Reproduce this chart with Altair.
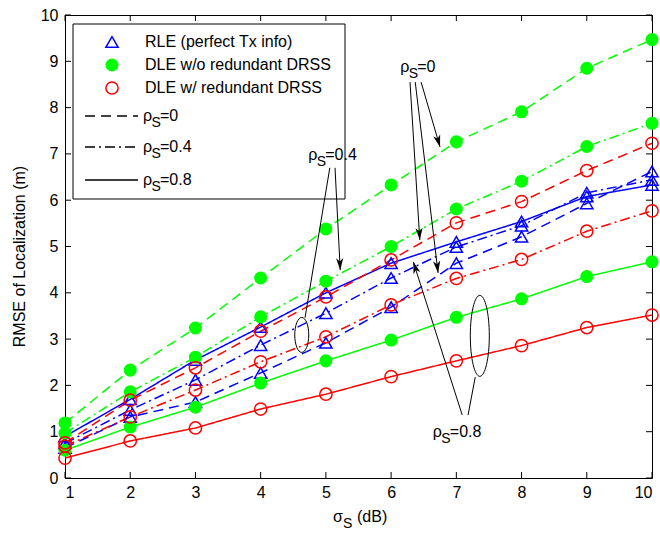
import math
import altair as alt
import pandas as pd

# ---------------- data ----------------
sigma = [1, 2, 3, 4, 5, 6, 7, 8, 9, 10]
rle_rho0 = [0.65, 1.32, 1.64, 2.27, 2.92, 3.69, 4.64, 5.21, 5.93, 6.62]
rle_rho04 = [0.75, 1.47, 2.12, 2.87, 3.56, 4.32, 4.99, 5.45, 6.16, 6.44]
rle_rho08 = [0.90, 1.70, 2.55, 3.26, 4.00, 4.64, 5.10, 5.54, 6.08, 6.33]
dle_wo_rho0 = [1.19, 2.33, 3.24, 4.32, 5.38, 6.33, 7.26, 7.91, 8.85, 9.47]
dle_wo_rho04 = [0.97, 1.86, 2.61, 3.48, 4.25, 5.00, 5.81, 6.41, 7.16, 7.66]
dle_wo_rho08 = [0.60, 1.10, 1.53, 2.05, 2.53, 2.98, 3.47, 3.87, 4.35, 4.67]
dle_w_rho0 = [0.76, 1.68, 2.38, 3.17, 3.91, 4.71, 5.51, 5.97, 6.64, 7.23]
dle_w_rho04 = [0.69, 1.32, 1.90, 2.51, 3.05, 3.74, 4.31, 4.72, 5.33, 5.77]
dle_w_rho08 = [0.43, 0.80, 1.08, 1.49, 1.81, 2.19, 2.53, 2.86, 3.25, 3.52]

methods = ["RLE (perfect Tx info)", "DLE w/o redundant DRSS", "DLE w/ redundant DRSS"]
rhos = ["0", "0.4", "0.8"]
x_ticks = [1, 2, 3, 4, 5, 6, 7, 8, 9, 10]
y_ticks = [0, 1, 2, 3, 4, 5, 6, 7, 8, 9, 10]

series = {
    (methods[0], "0"): rle_rho0, (methods[0], "0.4"): rle_rho04, (methods[0], "0.8"): rle_rho08,
    (methods[1], "0"): dle_wo_rho0, (methods[1], "0.4"): dle_wo_rho04, (methods[1], "0.8"): dle_wo_rho08,
    (methods[2], "0"): dle_w_rho0, (methods[2], "0.4"): dle_w_rho04, (methods[2], "0.8"): dle_w_rho08,
}

# ---------------- styling ----------------
BLUE, GREEN, RED = "#0000ff", "#00ff00", "#ff0000"
colors = [BLUE, GREEN, RED]
dashes = [[10, 6], [10, 4, 2, 4], [1, 0]]
FONT = "Liberation Sans"

W, H = 587, 463
X0, X1, Y0, Y1 = 1, 10, 0, 10
PX = W / (X1 - X0)
PY = H / (Y1 - Y0)

rows = []
for (m, r), vals in series.items():
    for s, v in zip(sigma, vals):
        rows.append({"sigma": s, "rmse": v, "method": m, "rho": r, "series": m + r})
df = pd.DataFrame(rows)

xs = alt.Scale(domain=[X0, X1], nice=False, zero=False)
ys = alt.Scale(domain=[Y0, Y1], nice=False, zero=False)
xaxis = alt.Axis(values=x_ticks, ticks=False, domain=False, grid=False, title=None,
                 labelFont=FONT, labelFontSize=16, labelColor="black", labelPadding=6, format="d")
yaxis = alt.Axis(values=y_ticks, ticks=False, domain=False, grid=False, title=None,
                 labelFont=FONT, labelFontSize=16, labelColor="black", labelPadding=7, format="d")


def X(f):
    return alt.X(f, scale=xs, axis=xaxis, title=None)


def Y(f):
    return alt.Y(f, scale=ys, axis=yaxis, title=None)


base = alt.Chart(df).encode(x=X("sigma:Q"), y=Y("rmse:Q"))

lines = base.mark_line(strokeWidth=1.5, clip=False).encode(
    color=alt.Color("method:N", scale=alt.Scale(domain=methods, range=colors), legend=None),
    strokeDash=alt.StrokeDash("rho:N", scale=alt.Scale(domain=rhos, range=dashes), legend=None),
    detail="series:N",
)

tri = base.transform_filter(alt.datum.method == methods[0]).mark_point(
    shape="triangle-up", filled=False, size=150, strokeWidth=1.5, color=BLUE, opacity=1)
dots = base.transform_filter(alt.datum.method == methods[1]).mark_point(
    shape="circle", filled=True, size=170, color=GREEN, opacity=1)
circ = base.transform_filter(alt.datum.method == methods[2]).mark_point(
    shape="circle", filled=False, size=150, strokeWidth=1.5, color=RED, opacity=1)

# ---------------- inward ticks (box style) ----------------
TL = 6
tx = pd.DataFrame({"sigma": x_ticks})
ty = pd.DataFrame({"rmse": y_ticks})
tick_layers = [
    alt.Chart(tx).mark_rule(color="black", strokeWidth=1).encode(
        x=X("sigma:Q"), y=alt.value(H), y2=alt.value(H - TL)),
    alt.Chart(tx).mark_rule(color="black", strokeWidth=1).encode(
        x=X("sigma:Q"), y=alt.value(0), y2=alt.value(TL)),
    alt.Chart(ty).mark_rule(color="black", strokeWidth=1).encode(
        y=Y("rmse:Q"), x=alt.value(0), x2=alt.value(TL)),
    alt.Chart(ty).mark_rule(color="black", strokeWidth=1).encode(
        y=Y("rmse:Q"), x=alt.value(W), x2=alt.value(W - TL)),
]

# ---------------- annotations (data coordinates) ----------------
def to_px(x, y):
    return ((x - X0) * PX, (Y1 - y) * PY)


def to_data(px, py):
    return (X0 + px / PX, Y1 - py / PY)


ann_lines = [
    (5.06, 6.70, 4.68, 3.46),
    (7.18, 1.36, 7.29, 2.18),
]
ann_arrows = [
    (6.29, 8.55, 6.44, 5.14),
    (6.37, 8.55, 6.72, 4.43),
    (6.46, 8.55, 6.75, 7.15),
    (5.14, 6.70, 5.22, 4.49),
    (7.09, 1.36, 6.34, 4.67),
]
seg = pd.DataFrame([{"sigma": a, "rmse": b, "x2": c, "y2": d} for a, b, c, d in ann_lines + ann_arrows])
seg_layer = alt.Chart(seg).mark_rule(color="black", strokeWidth=1).encode(
    x=X("sigma:Q"), y=Y("rmse:Q"), x2="x2:Q", y2="y2:Q")

AH = 6
heads = []
for a, b, c, d in ann_arrows:
    p0 = to_px(a, b)
    p1 = to_px(c, d)
    ddx, ddy = p1[0] - p0[0], p1[1] - p0[1]
    L = math.hypot(ddx, ddy)
    ux, uy = ddx / L, ddy / L
    ang = math.degrees(math.atan2(ux, -uy)) % 360
    cx, cy = to_data(p1[0] - ux * AH, p1[1] - uy * AH)
    heads.append({"sigma": cx, "rmse": cy, "ang": ang})
heads_df = pd.DataFrame(heads)
head_layer = alt.Chart(heads_df).mark_point(
    shape="M0,-1L0.6,1L0,0.45L-0.6,1Z", filled=True, size=(2 * AH) ** 2,
    color="black", opacity=1).encode(
    x=X("sigma:Q"), y=Y("rmse:Q"), angle=alt.Angle("ang:Q", scale=None))


def ellipse_path(a):
    k = 0.5523
    return (f"M0,-1C{k*a:.4f},-1 {a:.4f},{-k:.4f} {a:.4f},0"
            f"C{a:.4f},{k:.4f} {k*a:.4f},1 0,1"
            f"C{-k*a:.4f},1 {-a:.4f},{k:.4f} {-a:.4f},0"
            f"C{-a:.4f},{-k:.4f} {-k*a:.4f},-1 0,-1Z")


ell_small = alt.Chart(pd.DataFrame({"sigma": [4.63], "rmse": [3.09]})).mark_point(
    shape=ellipse_path(14 / 35), size=35 ** 2, filled=False, color="black",
    strokeWidth=1, opacity=1).encode(x=X("sigma:Q"), y=Y("rmse:Q"))
ell_big = alt.Chart(pd.DataFrame({"sigma": [7.36], "rmse": [3.07]})).mark_point(
    shape=ellipse_path(19 / 81), size=81 ** 2, filled=False, color="black",
    strokeWidth=1, opacity=1).encode(x=X("sigma:Q"), y=Y("rmse:Q"))

rho_lbl = pd.DataFrame({"sigma": [6.14, 4.73, 6.64], "rmse": [8.77, 6.87, 0.89],
                        "rest": ["=0", "=0.4", "=0.8"]})


def rho_text(df_, fs=16):
    enc = dict(x=X("sigma:Q"), y=Y("rmse:Q"))
    l1 = alt.Chart(df_).mark_text(text="ρ", font=FONT, fontSize=fs, align="left",
                                  baseline="alphabetic", color="black").encode(**enc)
    l2 = alt.Chart(df_).mark_text(text="S", font=FONT, fontSize=fs - 2, align="left",
                                  baseline="alphabetic", dx=8.5, dy=6, color="black").encode(**enc)
    l3 = alt.Chart(df_).mark_text(font=FONT, fontSize=fs, align="left",
                                  baseline="alphabetic", dx=17, color="black").encode(
        text="rest:N", **enc)
    return [l1, l2, l3]


# ---------------- legend (pixel layout inside plot) ----------------
LX0, LY0, LX1, LY1 = 8, 9, 280, 184
one = pd.DataFrame({"a": [0]})
leg = [alt.Chart(one).mark_rect(
    fill="white", stroke="black", strokeWidth=1).encode(
    x=alt.value(LX0), x2=alt.value(LX1), y=alt.value(LY0), y2=alt.value(LY1))]
mk_x, txt_x = 47, 80
row_y = [27, 50, 73]
mk_specs = [
    dict(shape="triangle-up", filled=False, size=150, strokeWidth=1.5, color=BLUE, opacity=1),
    dict(shape="circle", filled=True, size=170, color=GREEN, opacity=1),
    dict(shape="circle", filled=False, size=150, strokeWidth=1.5, color=RED, opacity=1),
]
for spec, yy, name in zip(mk_specs, row_y, methods):
    leg.append(alt.Chart(one).mark_point(**spec).encode(x=alt.value(mk_x), y=alt.value(yy)))
    leg.append(alt.Chart(one).mark_text(text=name, font=FONT, fontSize=16, align="left",
                                        baseline="middle", color="black").encode(
        x=alt.value(txt_x), y=alt.value(yy)))
line_y = [101, 132, 165]
for dsh, yy, r in zip(dashes, line_y, rhos):
    leg.append(alt.Chart(one).mark_rule(color="black", strokeWidth=1.5, strokeDash=dsh).encode(
        x=alt.value(20), x2=alt.value(73), y=alt.value(yy)))
    for t, fs, dx_, dy_ in [("ρ", 16, 0, 0), ("S", 14, 8.5, 6), ("=" + r, 16, 17, 0)]:
        leg.append(alt.Chart(one).mark_text(text=t, font=FONT, fontSize=fs, align="left",
                                            baseline="alphabetic", dx=dx_, dy=dy_,
                                            color="black").encode(
            x=alt.value(78), y=alt.value(yy + 5)))

# ---------------- axis titles ----------------
titles = [
    alt.Chart(one).mark_text(text="RMSE of Localization (m)", font=FONT, fontSize=16, angle=270,
                             align="center", baseline="middle", color="black").encode(
        x=alt.value(-45), y=alt.value(H / 2 + 10)),
    alt.Chart(one).mark_text(text="σ", font=FONT, fontSize=16, align="left",
                             baseline="alphabetic", color="black").encode(
        x=alt.value(268), y=alt.value(H + 44)),
    alt.Chart(one).mark_text(text="S", font=FONT, fontSize=14, align="left",
                             baseline="alphabetic", color="black").encode(
        x=alt.value(278), y=alt.value(H + 50)),
    alt.Chart(one).mark_text(text="(dB)", font=FONT, fontSize=16, align="left",
                             baseline="alphabetic", color="black").encode(
        x=alt.value(292), y=alt.value(H + 44)),
]

chart = alt.layer(
    *tick_layers, lines, tri, dots, circ, *leg, seg_layer, head_layer, ell_small, ell_big,
    *rho_text(rho_lbl), *titles
).properties(
    width=W, height=H,
    autosize=alt.AutoSizeParams(type="none"),
    padding={"left": 65, "top": 15, "right": 8, "bottom": 55},
    background="white",
).configure_view(stroke="black", strokeWidth=1)

chart.save("out.html", embed_options={"renderer": "svg", "actions": False})
